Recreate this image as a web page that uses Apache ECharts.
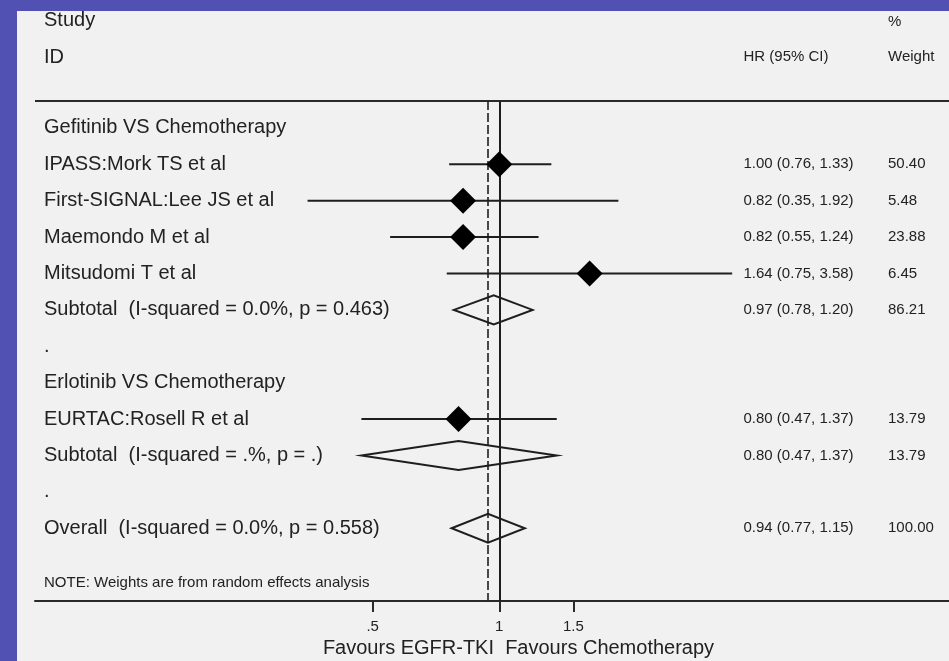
<!DOCTYPE html>
<html><head><meta charset="utf-8">
<script src="https://cdn.jsdelivr.net/npm/echarts@6/dist/echarts.min.js"></script>
<style>
html,body{margin:0;padding:0;background:#5151b3;width:949px;height:661px;overflow:hidden}
#bg{position:absolute;left:17px;top:11px;width:932px;height:650px;background:#f1f1f1}
#chart{position:absolute;left:0;top:0;width:949px;height:661px}
</style>
</head><body><div id="bg"></div><div id="chart"></div>
<script>
// ---- data ----
const rowLabels = [
  'Gefitinib VS Chemotherapy',
  'IPASS:Mork TS et al',
  'First-SIGNAL:Lee JS et al',
  'Maemondo M et al',
  'Mitsudomi T et al',
  'Subtotal  (I-squared = 0.0%, p = 0.463)',
  '.',
  'Erlotinib VS Chemotherapy',
  'EURTAC:Rosell R et al',
  'Subtotal  (I-squared = .%, p = .)',
  '.',
  'Overall  (I-squared = 0.0%, p = 0.558)'
];
const studyRows = [1, 2, 3, 4, 5, 8, 9, 11];
const hr     = [1.00, 0.82, 0.82, 1.64, 0.97, 0.80, 0.80, 0.94];
const lo     = [0.76, 0.35, 0.55, 0.75, 0.78, 0.47, 0.47, 0.77];
const hi     = [1.33, 1.92, 1.24, 3.58, 1.20, 1.37, 1.37, 1.15];
const weight = [50.40, 5.48, 23.88, 6.45, 86.21, 13.79, 13.79, 100.00];
const pooled = [false, false, false, false, true, false, true, true];
const xTicks = [0.5, 1, 1.5];
const xTickLabels = ['.5', '1', '1.5'];
const noteText = 'NOTE: Weights are from random effects analysis';
const noteRow = 12.5;
const xAxisTitle = 'Favours EGFR-TKI  Favours Chemotherapy';

// ---- chart ----
const X_MIN = 0.07867, X_MAX = 11.737;
const Y_MIN = -0.74, Y_MAX = 13;
const ink = '#1e1e1e', txt = '#222';
const FONT = '"Liberation Sans", Arial, Helvetica, sans-serif';

const studyPts = [], ciData = [], poolData = [];
studyRows.forEach((r, i) => {
  if (pooled[i]) poolData.push([lo[i], hi[i], hr[i], r]);
  else { studyPts.push([hr[i], r]); ciData.push([lo[i], hi[i], r]); }
});
const overallHR = hr[hr.length - 1];

const leftVals = rowLabels.map((_, i) => i).concat([noteRow]);
function hrText(v) { const i = studyRows.indexOf(v); return i < 0 ? '' : hr[i].toFixed(2) + ' (' + lo[i].toFixed(2) + ', ' + hi[i].toFixed(2) + ')'; }
function wText(v) { const i = studyRows.indexOf(v); return i < 0 ? '' : weight[i].toFixed(2); }

function yAx(pos, margin, values, fmt, size) {
  return {
    type: 'value', position: pos, min: Y_MIN, max: Y_MAX, inverse: true,
    axisLine: {show: false, onZero: false}, axisTick: {show: false}, splitLine: {show: false},
    axisLabel: {show: true, inside: true, margin: margin, align: 'left', customValues: values,
      formatter: fmt, color: txt, fontSize: size, fontFamily: FONT,
      rich: {n: {fontSize: 15, fontFamily: FONT, color: txt}}}
  };
}

const chart = echarts.init(document.getElementById('chart'), null, {renderer: 'canvas', width: 949, height: 661});
chart.setOption({
  animation: false,
  backgroundColor: 'transparent',
  grid: {left: 35, right: 0, top: 101, bottom: 60, outerBoundsMode: 'none'},
  xAxis: [
    {type: 'log', position: 'bottom', min: X_MIN, max: X_MAX,
     axisLine: {show: true, onZero: false, lineStyle: {color: '#2a2a2a', width: 2}},
     axisTick: {show: true, customValues: xTicks, length: 11, lineStyle: {color: '#2a2a2a', width: 2}},
     axisLabel: {show: true, customValues: xTicks, margin: 18, color: txt, fontSize: 15, fontFamily: FONT,
       formatter: v => { const i = xTicks.findIndex(t => Math.abs(t - v) < 1e-6); return i < 0 ? '' : xTickLabels[i]; }},
     splitLine: {show: false}, minorTick: {show: false},
     name: xAxisTitle, nameLocation: 'middle', nameGap: 33,
     nameTextStyle: {fontSize: 20, color: txt, fontFamily: FONT, padding: [0, 0, 0, 53]}}
  ],
  yAxis: [
    yAx('left', 9, leftVals, v => (Math.abs(v - noteRow) < 1e-6 ? '{n|' + noteText + '}' : (rowLabels[Math.round(v)] || '')), 20),
    yAx('right', 205.5, studyRows, hrText, 15),
    yAx('right', 61, studyRows, wText, 15)
  ],
  graphic: [
    {type: 'text', x: 44, y: 20.5, style: {text: 'Study', font: '20px ' + FONT, fill: txt, verticalAlign: 'middle'}},
    {type: 'text', x: 44, y: 57.5, style: {text: 'ID', font: '20px ' + FONT, fill: txt, verticalAlign: 'middle'}},
    {type: 'text', x: 743.5, y: 57, style: {text: 'HR (95% CI)', font: '15px ' + FONT, fill: txt, verticalAlign: 'middle'}},
    {type: 'text', x: 888, y: 21.5, style: {text: '%', font: '15px ' + FONT, fill: txt, verticalAlign: 'middle'}},
    {type: 'text', x: 888, y: 57, style: {text: 'Weight', font: '15px ' + FONT, fill: txt, verticalAlign: 'middle'}}
  ],
  series: [
    {type: 'scatter', data: [], silent: true, z: 1,
     markLine: {silent: true, symbol: ['none', 'none'], label: {show: false}, animation: false,
       data: [
         {yAxis: Y_MIN, lineStyle: {color: '#2a2a2a', width: 2, type: 'solid'}},
         {xAxis: 1, lineStyle: {color: ink, width: 2, type: 'solid'}},
         {xAxis: overallHR, lineStyle: {color: ink, width: 1.6, type: [9, 3]}}
       ]}},
    {type: 'custom', z: 3, clip: false, data: ciData, encode: {x: [0, 1], y: 2},
     renderItem: (p, api) => {
       const a = api.coord([api.value(0), api.value(2)]);
       const b = api.coord([api.value(1), api.value(2)]);
       return {type: 'line', shape: {x1: a[0], y1: a[1], x2: b[0], y2: b[1]},
               style: {stroke: ink, lineWidth: 2}};
     }},
    {type: 'custom', z: 6, clip: false, data: poolData, encode: {x: [0, 1, 2], y: 3},
     renderItem: (p, api) => {
       const l = api.coord([api.value(0), api.value(3)]);
       const r = api.coord([api.value(1), api.value(3)]);
       const c = api.coord([api.value(2), api.value(3)]);
       const h = 14.5;
       return {type: 'polygon',
               shape: {points: [[l[0], c[1]], [c[0], c[1] - h], [r[0], c[1]], [c[0], c[1] + h]]},
               style: {fill: 'rgba(0,0,0,0)', stroke: ink, lineWidth: 2}};
     }},
    {type: 'scatter', z: 10, data: studyPts, symbol: 'diamond', symbolSize: 26,
     itemStyle: {color: '#000', opacity: 1}, silent: true}
  ]
});
</script>
</body></html>
